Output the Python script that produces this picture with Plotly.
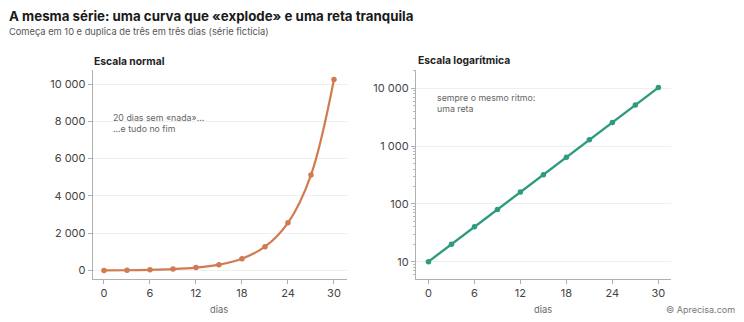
import plotly.graph_objects as go

days = [0, 3, 6, 9, 12, 15, 18, 21, 24, 27, 30]
values = [10, 20, 40, 80, 160, 320, 640, 1280, 2560, 5120, 10240]

lin_tickvals = [0, 2000, 4000, 6000, 8000, 10000]
lin_ticktext = ["0", "2 000", "4 000", "6 000", "8 000", "10 000"]
log_tickvals = [10, 100, 1000, 10000]
log_ticktext = ["10", "100", "1 000", "10 000"]
log_minor = [m * d for d in [1, 10, 100, 1000] for m in [2, 3, 4, 5, 6, 7, 8, 9]] + [6, 7, 8, 9, 20000]
x_tickvals = [0, 6, 12, 18, 24, 30]

ORANGE = "#d07b50"
GREEN = "#2e9a7f"
FONT = "Inter"
W, H = 744, 322


def px(x):
    return x / W


def py(y):
    return 1 - y / H


fig = go.Figure()
fig.add_trace(go.Scatter(
    x=days, y=values, mode="lines+markers", line=dict(color=ORANGE, width=2.2, shape="spline"),
    marker=dict(color=ORANGE, size=5.5), xaxis="x", yaxis="y", hoverinfo="skip", showlegend=False))
fig.add_trace(go.Scatter(
    x=days, y=values, mode="lines+markers", line=dict(color=GREEN, width=2.4),
    marker=dict(color=GREEN, size=5.5), xaxis="x2", yaxis="y2", hoverinfo="skip", showlegend=False))

axis_common = dict(
    showline=True, linecolor="#b0b0b0", linewidth=1, ticks="outside", ticklen=4, tickwidth=1,
    tickcolor="#b0b0b0", tickfont=dict(family=FONT, size=11, color="#444"), zeroline=False,
)
ydom = [py(279), py(70)]

fig.update_layout(
    width=W, height=H, margin=dict(l=0, r=0, t=0, b=0),
    paper_bgcolor="white", plot_bgcolor="white",
    font=dict(family=FONT),
    xaxis=dict(domain=[px(92.7), px(346.7)], range=[-1.47, 31.66], tickvals=x_tickvals,
               showgrid=False, anchor="y", **axis_common),
    yaxis=dict(domain=ydom, range=[-450, 10750], tickvals=lin_tickvals, ticktext=lin_ticktext,
               showgrid=True, gridcolor="#efefef", gridwidth=1, anchor="x", **axis_common),
    xaxis2=dict(domain=[px(415.9), px(671)], range=[-1.64, 31.65], tickvals=x_tickvals,
                showgrid=False, anchor="y2", **axis_common),
    yaxis2=dict(domain=ydom, type="log", range=[0.70, 4.315], tickvals=log_tickvals,
                ticktext=log_ticktext, showgrid=True, gridcolor="#efefef", gridwidth=1, anchor="x2",
                minor=dict(tickmode="array", tickvals=log_minor, ticks="outside", ticklen=2,
                           tickcolor="#b8b8b8", showgrid=False),
                **axis_common),
)

ann = []


def text(x, y, s, size, color, bold=False, xanchor="left", yanchor="middle"):
    ann.append(dict(x=px(x), y=py(y), xref="paper", yref="paper", text=f"<b>{s}</b>" if bold else s,
                    showarrow=False, xanchor=xanchor, yanchor=yanchor, align="left",
                    font=dict(family=FONT, size=size, color=color)))


text(7, 16, "A mesma série: uma curva que «explode» e uma reta tranquila", 13.3, "#1a1a1a", bold=True)
text(7, 32, "Começa em 10 e duplica de três em três dias (série fictícia)", 9.3, "#555")
text(92, 61, "Escala normal", 10.3, "#222", bold=True)
text(416, 61, "Escala logarítmica", 10.3, "#222", bold=True)
text(111, 123, "20 dias sem «nada»...<br>...e tudo no fim", 8.8, "#666")
text(435, 103, "sempre o mesmo ritmo:<br>uma reta", 8.8, "#666")
text(219, 309, "dias", 9.3, "#666", xanchor="center")
text(543, 309, "dias", 9.3, "#666", xanchor="center")
text(737, 309, "© Aprecisa.com", 9, "#777", xanchor="right")
fig.update_layout(annotations=ann)

fig.write_html("out.html")
